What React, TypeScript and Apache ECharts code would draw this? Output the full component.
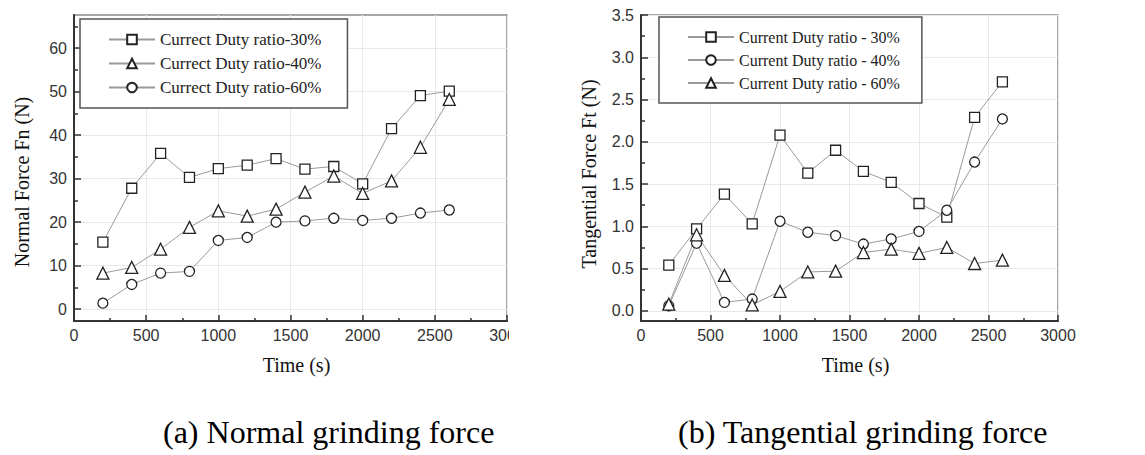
import React, { useEffect, useRef } from "react";
import * as echarts from "echarts";

const timeSeconds = [200, 400, 600, 800, 1000, 1200, 1400, 1600, 1800, 2000, 2200, 2400, 2600];

const normalDuty30 = [15.4, 27.8, 35.8, 30.3, 32.3, 33.1, 34.6, 32.2, 32.8, 28.8, 41.5, 49.1, 50.1];
const normalDuty40 = [8.3, 9.6, 13.8, 18.8, 22.6, 21.4, 23.0, 26.9, 30.6, 26.6, 29.5, 37.2, 48.2];
const normalDuty60 = [1.4, 5.7, 8.3, 8.7, 15.8, 16.5, 20.0, 20.3, 20.9, 20.4, 20.9, 22.1, 22.8];

const tangDuty30 = [0.54, 0.97, 1.38, 1.03, 2.08, 1.63, 1.9, 1.65, 1.52, 1.27, 1.11, 2.29, 2.71];
const tangDuty40 = [0.06, 0.8, 0.1, 0.14, 1.06, 0.93, 0.89, 0.79, 0.85, 0.94, 1.19, 1.76, 2.27];
const tangDuty60 = [0.08, 0.9, 0.42, 0.07, 0.23, 0.46, 0.47, 0.69, 0.73, 0.68, 0.75, 0.56, 0.6];

const normalLabels = ["Currect Duty ratio-30%", "Currect Duty ratio-40%", "Currect Duty ratio-60%"];
const tangLabels = ["Current Duty ratio - 30%", "Current Duty ratio - 40%", "Current Duty ratio - 60%"];

const normalYTicks = [0, 10, 20, 30, 40, 50, 60];
const normalYMinor = [5, 15, 25, 35, 45, 55, 65];
const tangYTicks = [0, 0.5, 1, 1.5, 2, 2.5, 3, 3.5];
const tangYMinor = [0.25, 0.75, 1.25, 1.75, 2.25, 2.75, 3.25];

const SERIF = "Liberation Serif, Times New Roman, serif";
const SANS = "Liberation Sans, Arial, sans-serif";

type SeriesCfg = { name: string; values: number[]; symbol: string; size: number };
type Cfg = {
  gridLeft: number;
  gridTop: number;
  gridWidth: number;
  gridHeight: number;
  yMin: number;
  yMax: number;
  ySplit: number;
  yTicks: number[];
  yMinor: number[];
  yDigits: number;
  yName: string;
  yNameGap: number;
  yNameShift: number;
  legendLeft: number;
  legendTop: number;
  legendPadding: number[];
  legendFont: number;
  series: SeriesCfg[];
  caption: string;
  captionX: number;
};

function buildOption(c: Cfg) {
  return {
    animation: false,
    backgroundColor: "#ffffff",
    grid: {
      left: c.gridLeft,
      top: c.gridTop,
      width: c.gridWidth,
      height: c.gridHeight,
      containLabel: false,
      outerBoundsMode: "none",
      show: true,
      borderColor: "#8a8a8a",
      borderWidth: 1.5,
      backgroundColor: "transparent",
    },
    legend: {
      orient: "vertical",
      left: c.legendLeft,
      top: c.legendTop,
      padding: c.legendPadding,
      itemWidth: 46,
      itemHeight: 12,
      itemGap: 7,
      backgroundColor: "#ffffff",
      borderColor: "#555555",
      borderWidth: 1.5,
      borderRadius: 0,
      textStyle: { fontFamily: SERIF, fontSize: c.legendFont, color: "#222222" },
      data: c.series.map((s) => s.name),
    },
    xAxis: {
      type: "value",
      min: 0,
      max: 3000,
      interval: 500,
      name: "Time (s)",
      nameLocation: "middle",
      nameGap: 34,
      nameTextStyle: { fontFamily: SERIF, fontSize: 20, color: "#111111", padding: [0, 0, 0, 12] },
      axisLine: { show: true, onZero: false, lineStyle: { color: "#333333", width: 2 } },
      axisTick: { show: true, inside: true, length: 6, lineStyle: { color: "#333333", width: 1.5 } },
      minorTick: { show: true, splitNumber: 2, length: 3, lineStyle: { color: "#333333", width: 1.5 } },
      axisLabel: {
        fontFamily: SANS,
        fontSize: 16,
        color: "#333333",
        margin: 6,
        hideOverlap: false,
        formatter: (v: number) => String(v),
      },
      splitLine: { show: true, lineStyle: { color: "#e8e8e8", width: 1 } },
    },
    yAxis: [
      {
        type: "value",
        position: "left",
        min: c.yMin,
        max: c.yMax,
        splitNumber: c.ySplit,
        name: c.yName,
        nameLocation: "middle",
        nameGap: c.yNameGap,
        nameTextStyle: {
          fontFamily: SERIF,
          fontSize: 20,
          color: "#111111",
          padding: [0, c.yNameShift * 2, 0, 0],
        },
        axisLine: { show: true, onZero: false, lineStyle: { color: "#333333", width: 2 } },
        axisTick: {
          show: true,
          inside: true,
          length: 7,
          customValues: c.yTicks,
          lineStyle: { color: "#333333", width: 1.5 },
        },
        axisLabel: {
          fontFamily: SANS,
          fontSize: 16,
          color: "#333333",
          margin: 7,
          customValues: c.yTicks,
          formatter: (v: number) => v.toFixed(c.yDigits),
        },
        splitLine: { show: true, lineStyle: { color: "#e8e8e8", width: 1 } },
      },
      {
        type: "value",
        position: "left",
        offset: 0,
        min: c.yMin,
        max: c.yMax,
        splitNumber: c.ySplit,
        axisLine: { show: false },
        axisTick: {
          show: true,
          inside: true,
          length: 4,
          customValues: c.yMinor,
          lineStyle: { color: "#333333", width: 1.5 },
        },
        axisLabel: { show: false },
        splitLine: { show: false },
      },
    ],
    series: c.series.map((s) => ({
      type: "line",
      name: s.name,
      yAxisIndex: 0,
      data: timeSeconds.map((t, i) => [t, s.values[i]]),
      symbol: s.symbol,
      symbolSize: s.size,
      showAllSymbol: true,
      lineStyle: { color: "#9a9a9a", width: 1 },
      itemStyle: { color: "#ffffff", borderColor: "#222222", borderWidth: 1.3 },
      emphasis: { disabled: true },
      z: 3,
    })),
    graphic: [
      {
        type: "text",
        left: c.captionX,
        top: 416,
        style: {
          text: c.caption,
          fontFamily: SERIF,
          fontSize: 32,
          fill: "#000000",
        },
      },
    ],
  };
}

const leftCfg: Cfg = {
  gridLeft: 74,
  gridTop: 15,
  gridWidth: 433,
  gridHeight: 306,
  yMin: -2.7,
  yMax: 67.6,
  ySplit: 7,
  yTicks: normalYTicks,
  yMinor: normalYMinor,
  yDigits: 0,
  yName: "Normal Force Fn (N)",
  yNameGap: 42,
  yNameShift: 14,
  legendLeft: 80,
  legendTop: 19,
  legendPadding: [12, 26, 12, 28],
  legendFont: 17,
  series: [
    { name: normalLabels[0], values: normalDuty30, symbol: "rect", size: 10 },
    { name: normalLabels[1], values: normalDuty40, symbol: "triangle", size: 12 },
    { name: normalLabels[2], values: normalDuty60, symbol: "circle", size: 10 },
  ],
  caption: "(a) Normal grinding force",
  captionX: 163,
};

const rightCfg: Cfg = {
  gridLeft: 81,
  gridTop: 15,
  gridWidth: 417,
  gridHeight: 306,
  yMin: -0.12,
  yMax: 3.5,
  ySplit: 8,
  yTicks: tangYTicks,
  yMinor: tangYMinor,
  yDigits: 1,
  yName: "Tangential Force Ft (N)",
  yNameGap: 42,
  yNameShift: 6,
  legendLeft: 99,
  legendTop: 17,
  legendPadding: [12, 22, 12, 28],
  legendFont: 16,
  series: [
    { name: tangLabels[0], values: tangDuty30, symbol: "rect", size: 10 },
    { name: tangLabels[1], values: tangDuty40, symbol: "circle", size: 10 },
    { name: tangLabels[2], values: tangDuty60, symbol: "triangle", size: 12 },
  ],
  caption: "(b) Tangential grinding force",
  captionX: 118,
};

function ChartBox(props: { cfg: Cfg; left: number; width: number }) {
  const ref = useRef<HTMLDivElement>(null);
  useEffect(() => {
    if (!ref.current) return;
    const chart = echarts.init(ref.current, undefined, { renderer: "svg" });
    chart.setOption(buildOption(props.cfg) as any);
    return () => chart.dispose();
  }, [props.cfg]);
  return (
    <div
      ref={ref}
      style={{
        position: "absolute",
        left: props.left,
        top: 0,
        width: props.width,
        height: 455,
        overflow: "hidden",
      }}
    />
  );
}

export default function App() {
  return (
    <div
      style={{
        position: "fixed",
        left: 0,
        top: 0,
        width: 1145,
        height: 455,
        background: "#ffffff",
        overflow: "hidden",
      }}
    >
      <ChartBox cfg={leftCfg} left={0} width={509} />
      <ChartBox cfg={rightCfg} left={560} width={585} />
    </div>
  );
}
